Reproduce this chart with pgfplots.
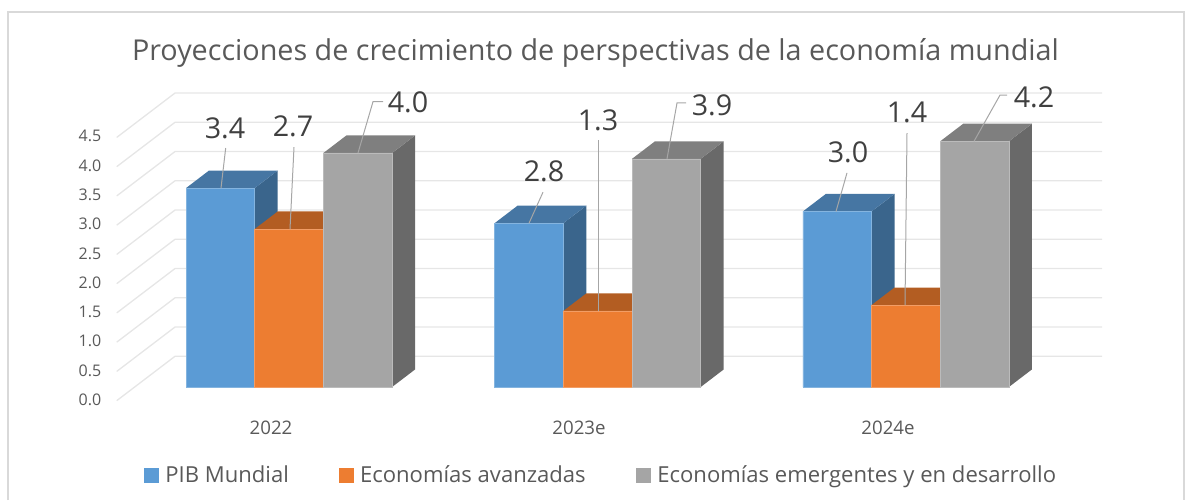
\documentclass[border=0pt]{standalone}
\usepackage{fontspec}
\setmainfont{Open Sans}
\usepackage{pgfplots}
\pgfplotsset{compat=1.18}

\definecolor{cBlue}{HTML}{5B9BD5}
\definecolor{cBlueTop}{HTML}{4676A3}
\definecolor{cBlueSide}{HTML}{3A658C}
\definecolor{cOrange}{HTML}{ED7D31}
\definecolor{cOrangeTop}{HTML}{B35D22}
\definecolor{cGray}{HTML}{A5A5A5}
\definecolor{cGrayTop}{HTML}{7F7F7F}
\definecolor{cGraySide}{HTML}{696969}
\definecolor{cGrid}{HTML}{E6E6E6}
\definecolor{cFrame}{HTML}{D9D9D9}
\definecolor{cLeader}{HTML}{A6A6A6}
\definecolor{cText}{HTML}{595959}
\definecolor{cLabel}{HTML}{404040}

% x is in picture pixels, y in data units of the front plane (58.5 px per unit)
\pgfplotsset{
  face/.style={fill=#1,draw=none,forget plot},
  leader/.style={draw=cLeader,line width=0.75pt,forget plot},
  front/.style={ybar,bar width=51.5pt,bar shift=0pt,fill=#1,draw=#1!75!white,line width=0.4pt,
    legend image code/.code={\fill[#1] (0pt,-5.2pt) rectangle (10.5pt,5.2pt);}},
}
\tikzset{lab/.style={font=\fontsize{21.5}{21.5}\selectfont,text=cLabel,inner sep=0pt,anchor=center}}

\begin{document}
\begin{tikzpicture}
\begin{axis}[
    scale only axis,
    width=888.75pt,
    height=375pt,
    xmin=0, xmax=1185,
    ymin=-1.9316, ymax=6.6154,
    clip=false,
    axis line style={draw=none},
    tick style={draw=none},
    major tick length=0pt,
    ytick={-0.215,0.285,0.785,1.285,1.785,2.285,2.785,3.285,3.785,4.285},
    yticklabels={0.0,0.5,1.0,1.5,2.0,2.5,3.0,3.5,4.0,4.5},
    xtick={271,579,888},
    xticklabels={2022,2023e,2024e},
    yticklabel style={font=\fontsize{12}{12}\selectfont,text=cText,anchor=east,xshift=79.5pt},
    xticklabel style={font=\fontsize{14}{14}\selectfont,text=cText,anchor=center,yshift=54pt},
    title={Proyecciones de crecimiento de perspectivas de la economía mundial},
    title style={at={(0.5025,0.878)},anchor=center,font=\fontsize{21.55}{21.55}\selectfont,text=cText,inner sep=0pt},
    legend columns=3,
    legend style={at={(0.1215,0.05)},anchor=west,draw=none,fill=none,inner sep=0pt,
      font=\fontsize{16.55}{16.55}\selectfont,text=cText,
      /tikz/column 1/.style={column sep=3pt},
      /tikz/column 3/.style={column sep=3pt},
      /tikz/column 5/.style={column sep=3pt},
      /tikz/column 2/.style={column sep=35.5pt},
      /tikz/column 4/.style={column sep=35.8pt}},
    legend cell align=left,
]
% frame
\addplot[draw=cFrame,line width=0.9pt,forget plot] coordinates {(8,-1.9316) (8,6.41) (1184,6.41) (1184,-1.9316)};

% gridlines: floor/side slant and back wall
\addplot[draw=cGrid,line width=1pt,unbounded coords=jump,forget plot] coordinates {
  (116.7,-0.234) (175,0.525) (1102,0.525) (nan,nan)
  (116.7,0.266) (175,1.025) (1102,1.025) (nan,nan)
  (116.7,0.766) (175,1.525) (1102,1.525) (nan,nan)
  (116.7,1.266) (175,2.025) (1102,2.025) (nan,nan)
  (116.7,1.766) (175,2.525) (1102,2.525) (nan,nan)
  (116.7,2.266) (175,3.025) (1102,3.025) (nan,nan)
  (116.7,2.766) (175,3.525) (1102,3.525) (nan,nan)
  (116.7,3.266) (175,4.025) (1102,4.025) (nan,nan)
  (116.7,3.766) (175,4.525) (1102,4.525) (nan,nan)
  (116.7,4.266) (175,5.025) (1102,5.025)
};

% PIB Mundial
\addplot[face=cBlueSide] coordinates {(254.7,0) (254.7,3.4) (277.7,3.7) (277.7,0.3)} -- cycle;
\addplot[face=cBlueTop] coordinates {(186,3.4) (254.7,3.4) (277.7,3.7) (209,3.7)} -- cycle;
\addplot[face=cBlueSide] coordinates {(563.3,0) (563.3,2.8) (586.3,3.1) (586.3,0.3)} -- cycle;
\addplot[face=cBlueTop] coordinates {(494.6,2.8) (563.3,2.8) (586.3,3.1) (517.6,3.1)} -- cycle;
\addplot[face=cBlueSide] coordinates {(871.5,0) (871.5,3.0) (894.5,3.3) (894.5,0.3)} -- cycle;
\addplot[face=cBlueTop] coordinates {(802.8,3.0) (871.5,3.0) (894.5,3.3) (825.8,3.3)} -- cycle;
\addplot[front=cBlue] coordinates {(220.35,3.4) (528.95,2.8) (837.15,3.0)};
\addlegendentry{PIB Mundial}

% Economias avanzadas
\addplot[face=cOrangeTop] coordinates {(254.7,2.7) (323.4,2.7) (346.4,3.0) (277.7,3.0)} -- cycle;
\addplot[face=cOrangeTop] coordinates {(563.3,1.3) (632,1.3) (655,1.6) (586.3,1.6)} -- cycle;
\addplot[face=cOrangeTop] coordinates {(871.5,1.4) (940.2,1.4) (963.2,1.7) (894.5,1.7)} -- cycle;
\addplot[front=cOrange] coordinates {(289.05,2.7) (597.65,1.3) (905.85,1.4)};
\addlegendentry{Economías avanzadas}

% Economias emergentes y en desarrollo
\addplot[face=cGraySide] coordinates {(392.1,0) (392.1,4.0) (415.1,4.3) (415.1,0.3)} -- cycle;
\addplot[face=cGrayTop] coordinates {(323.4,4.0) (392.1,4.0) (415.1,4.3) (346.4,4.3)} -- cycle;
\addplot[face=cGraySide] coordinates {(700.7,0) (700.7,3.9) (723.7,4.2) (723.7,0.3)} -- cycle;
\addplot[face=cGrayTop] coordinates {(632,3.9) (700.7,3.9) (723.7,4.2) (655,4.2)} -- cycle;
\addplot[face=cGraySide] coordinates {(1008.9,0) (1008.9,4.2) (1031.9,4.5) (1031.9,0.3)} -- cycle;
\addplot[face=cGrayTop] coordinates {(940.2,4.2) (1008.9,4.2) (1031.9,4.5) (963.2,4.5)} -- cycle;
\addplot[front=cGray] coordinates {(357.75,4.0) (666.35,3.9) (974.55,4.2)};
\addlegendentry{Economías emergentes y en desarrollo}

% leader lines
\addplot[leader] coordinates {(221,3.4) (225.7,4.085)};
\addplot[leader] coordinates {(290,2.7) (294,4.10)};
\addplot[leader] coordinates {(358,4.0) (373,4.877) (383,4.877)};
\addplot[leader] coordinates {(529,2.8) (543,3.33)};
\addplot[leader] coordinates {(598,1.3) (598,4.22)};
\addplot[leader] coordinates {(667,3.9) (677,4.855) (686,4.855)};
\addplot[leader] coordinates {(836,3.0) (847,3.66)};
\addplot[leader] coordinates {(905,1.4) (907,4.34)};
\addplot[leader] coordinates {(974,4.2) (1000,4.99) (1007,4.99)};

% data labels
\node[lab] at (axis cs:225,4.43) {3.4};
\node[lab] at (axis cs:293,4.45) {2.7};
\node[lab] at (axis cs:408,4.86) {4.0};
\node[lab] at (axis cs:544,3.69) {2.8};
\node[lab] at (axis cs:598,4.55) {1.3};
\node[lab] at (axis cs:712,4.82) {3.9};
\node[lab] at (axis cs:848,4.02) {3.0};
\node[lab] at (axis cs:907,4.70) {1.4};
\node[lab] at (axis cs:1034,4.96) {4.2};
\end{axis}
\path[use as bounding box] (current axis.south west) rectangle (current axis.north east);
\end{tikzpicture}
\end{document}
